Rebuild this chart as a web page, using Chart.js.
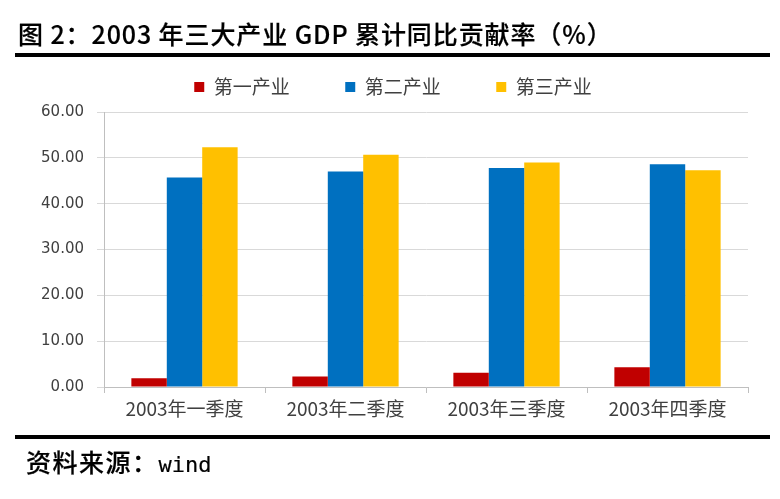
<!DOCTYPE html>
<html>
<head>
<meta charset="utf-8">
<script src="https://cdn.jsdelivr.net/npm/chart.js@4.4.0/dist/chart.umd.min.js"></script>
<style>
  html, body { margin:0; padding:0; background:#fff; }
  #wrap { position:relative; width:780px; height:499px; overflow:hidden; background:#fff; }
  #c { position:absolute; left:0; top:0; }
  #title { position:absolute; left:18px; top:18px; font-family:"Noto Sans CJK SC", sans-serif; font-size:25px; line-height:30px; font-weight:500; color:#000; letter-spacing:0.9px; white-space:nowrap; -webkit-text-stroke:0.2px #000; }
  .rule { position:absolute; left:15px; width:755px; height:4px; background:#000; }
  #src { position:absolute; left:26px; top:446px; font-family:"Noto Sans CJK SC", sans-serif; font-size:25px; line-height:30px; font-weight:500; color:#000; white-space:nowrap; letter-spacing:1.5px; -webkit-text-stroke:0.2px #000; }
  #src .m { font-family:"DejaVu Sans Mono", monospace; font-size:22px; letter-spacing:0; }
</style>
</head>
<body>
<div id="wrap">
  <canvas id="c" width="780" height="499"></canvas>
  <div id="title">图 2：2003 年三大产业 GDP 累计同比贡献率（%）</div>
  <div class="rule" style="top:53px"></div>
  <div class="rule" style="top:435px"></div>
  <div id="src">资料来源：<span class="m">wind</span></div>
</div>
<script>
const categories = ['2003年一季度', '2003年二季度', '2003年三季度', '2003年四季度'];
const seriesNames = ['第一产业', '第二产业', '第三产业'];
const primary = [1.9, 2.3, 3.1, 4.3];
const secondary = [45.7, 47.0, 47.8, 48.6];
const tertiary = [52.3, 50.7, 49.0, 47.3];
const yTicks = [0, 10, 20, 30, 40, 50, 60];

const colors = ['#C00000', '#0070C0', '#FFC000'];
const values = [primary, secondary, tertiary];

const chart = new Chart(document.getElementById('c'), {
  type: 'bar',
  data: {
    labels: categories,
    datasets: seriesNames.map((n, i) => ({
      label: n,
      data: values[i],
      backgroundColor: colors[i],
      borderWidth: 0,
      categoryPercentage: 0.66,
      barPercentage: 1.0
    }))
  },
  options: {
    responsive: false,
    animation: false,
    layout: { padding: { top: 22, left: 38, right: 32, bottom: 72 } },
    plugins: {
      legend: {
        position: 'top',
        labels: {
          boxWidth: 10, boxHeight: 10, padding: 55.5,
          color: '#404040',
          font: { family: '"Noto Sans CJK SC", sans-serif', size: 19 }
        }
      },
      tooltip: { enabled: false },
      title: { display: false }
    },
    scales: {
      x: {
        grid: { display: true, drawOnChartArea: false, tickLength: 6, color: '#bfbfbf', offset: true },
        border: { color: '#bfbfbf' },
        ticks: { color: '#404040', padding: 4, font: { family: '"Noto Sans CJK SC", sans-serif', size: 19 } },
        afterFit: s => { s.height = 40; }
      },
      y: {
        min: yTicks[0], max: yTicks[yTicks.length - 1],
        afterBuildTicks: s => { s.ticks = yTicks.map(v => ({ value: v })); },
        grid: { color: '#d9d9d9', tickLength: 7 },
        border: { color: '#bfbfbf' },
        ticks: { color: '#404040', padding: 13, font: { family: '"DejaVu Sans", sans-serif', size: 15 },
                 callback: v => Number(v).toFixed(2) },
        afterFit: s => { s.width = 66; }
      }
    }
  }
});
const origFit = chart.legend.fit;
chart.legend.fit = function () { origFit.call(this); this.height += 5.5; };
chart.update();
</script>
</body>
</html>
